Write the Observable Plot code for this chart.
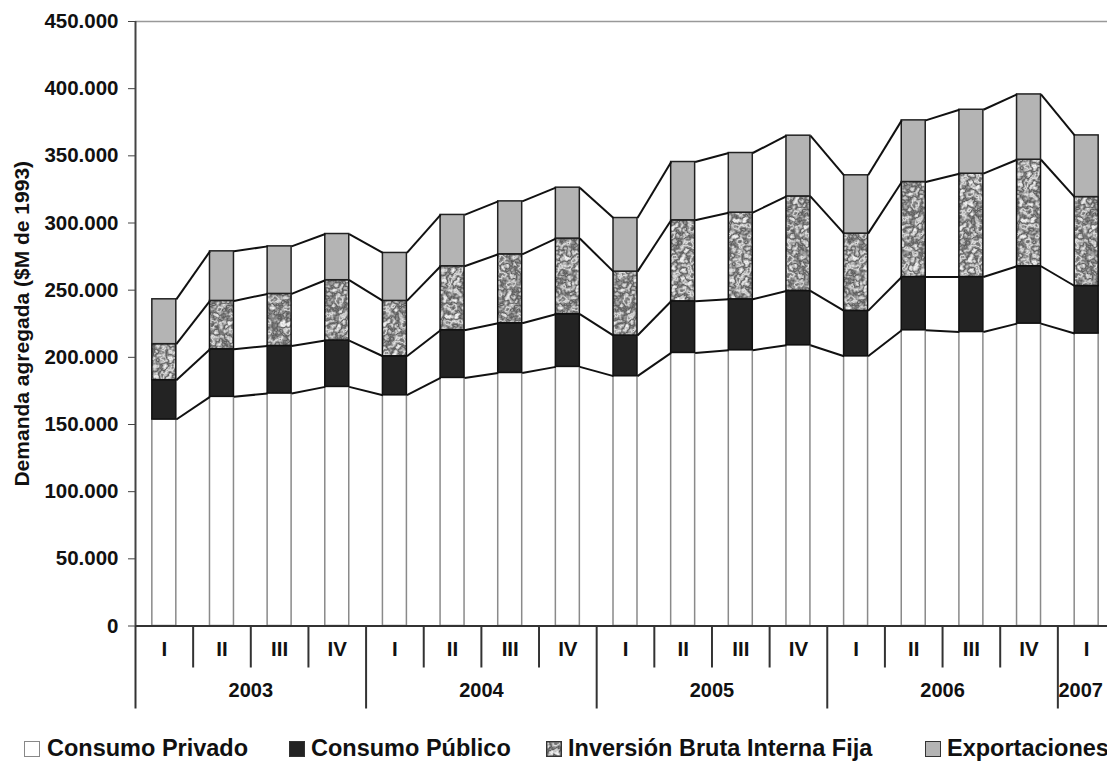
<!DOCTYPE html>
<html><head><meta charset="utf-8">
<script src="https://cdn.jsdelivr.net/npm/d3@7"></script>
<script src="https://cdn.jsdelivr.net/npm/@observablehq/plot@0.6"></script>
<style>
body{margin:0;background:#fff;font-family:"Liberation Sans",Arial,sans-serif;}
#legend{position:relative;width:1107px;height:31px;font-weight:bold;font-size:23.5px;color:#111;}
.item{position:absolute;top:5px;height:26px;line-height:26px;white-space:nowrap;}
.sw{position:absolute;top:11px;width:16px;height:16px;box-sizing:border-box;}
svg{display:block;}
</style></head><body>
<div id="chart"></div>
<div id="legend"></div>
<script>
// ---- data ($M de 1993) ----
const quarters = ["I","II","III","IV","I","II","III","IV","I","II","III","IV","I","II","III","IV","I"];
const years = ["2003","2004","2005","2006","2007"];
const yearFirstQuarter = [0,4,8,12,16];
const yearQuarterCount = [4,4,4,4,1];
const seriesNames = ["Consumo Privado","Consumo Público","Inversión Bruta Interna Fija","Exportaciones"];
const consumoPrivado = [153700,170600,173100,178000,171800,184700,188400,192900,186000,203300,205300,209000,200800,220200,218900,225100,217700];
const consumoPublico = [29300,35400,35400,34500,29000,35500,37000,39200,30200,38400,37900,40400,33800,39600,40900,42700,35400];
const inversion = [26800,36000,38700,44900,41200,47600,51300,56300,47600,60300,64500,70400,57500,70700,76900,79300,66200];
const exportaciones = [33400,36900,35400,34400,35700,38200,39400,37900,39900,43400,44400,45200,43400,45900,47600,48600,45900];
const yTicks = d3.range(0, 450001, 50000);

// ---- derived ----
const series = [consumoPrivado, consumoPublico, inversion, exportaciones];
const n = quarters.length;
const cum = [];
series.forEach((s, k) => cum.push(s.map((v, i) => (k ? cum[k-1][i] : 0) + v)));
const rows = series.map((s, k) => s.map((v, i) => ({i, k, y1: k ? cum[k-1][i] : 0, y2: cum[k][i]})));
const HW = 0.208; // half bar width (band units)
const links = [];
cum.forEach(c => { for (let i = 0; i < n - 1; i++) links.push({x1: i + 0.5 + HW, y1: c[i], x2: i + 1.5 - HW, y2: c[i+1]}); });
const qIdx = d3.range(n);
const sepQ = qIdx.filter(i => !yearFirstQuarter.includes(i));
const yearRows = years.map((y, j) => ({y, c: yearFirstQuarter[j] + yearQuarterCount[j] / 2, full: yearQuarterCount[j] === 4}));

const styles = [
  {fill: "#ffffff", stroke: "#8a8a8a"},
  {fill: "#232323", stroke: "#111111"},
  {fill: "url(#invPat)", stroke: "#111111"},
  {fill: "#b4b4b4", stroke: "#222222"}
];
const fmt = d => d === 0 ? "0" : d3.format(",")(d).replace(/,/g, ".");
const H = 730, Y0 = 625.5;

const barMarks = rows.map((r, k) => Plot.rect(r, {
  x1: d => d.i + 0.5 - HW, x2: d => d.i + 0.5 + HW, y1: "y1", y2: "y2",
  fill: styles[k].fill, stroke: styles[k].stroke, strokeWidth: 1.5
}));

const svg = Plot.plot({
  width: 1107, height: H,
  marginLeft: 135, marginTop: 21, marginBottom: H - Y0, marginRight: 0,
  style: {fontFamily: "'Liberation Sans', Arial, sans-serif", fontWeight: "bold", color: "#111", background: "#fff"},
  x: {type: "linear", domain: [0, n], range: [135, 1115], axis: null},
  y: {domain: [0, 450000], axis: null},
  marks: [
    Plot.ruleY([450000], {x1: 0, x2: n, stroke: "#999", strokeWidth: 1.5}),
    ...barMarks,
    Plot.link(links, {x1: "x1", y1: "y1", x2: "x2", y2: "y2", stroke: "#111", strokeWidth: 2}),
    Plot.ruleY([0], {x1: 0, x2: n, stroke: "#333", strokeWidth: 2}),
    Plot.ruleX([0], {y1: 0, y2: 450000, stroke: "#444", strokeWidth: 2}),
    Plot.ruleX(sepQ, {x: d => d, y1: 0, y2: 0, insetBottom: -42, stroke: "#333", strokeWidth: 2}),
    Plot.ruleX(yearFirstQuarter, {x: d => d, y1: 0, y2: 0, insetBottom: -83, stroke: "#333", strokeWidth: 2}),
    Plot.axisY({ticks: yTicks, tickSize: 7, tickPadding: 10, tickFormat: fmt, label: null, fontSize: 20.5, fontWeight: "bold", stroke: "#444"}),
    Plot.text(["Demanda agregada ($M de 1993)"], {x: 0, y: 225000, dx: -113, rotate: -90, fontSize: 21, fontWeight: "bold", fill: "#111"}),
    Plot.text(qIdx, {x: d => d + 0.5, y: 0, dy: 23, text: d => quarters[d], fontSize: 20.5, fontWeight: "bold", fill: "#111"}),
    Plot.text(yearRows.filter(d => d.full), {x: "c", y: 0, dy: 65, text: "y", fontSize: 20, fontWeight: "bold", fill: "#111"}),
    Plot.text(yearRows.filter(d => !d.full), {x: "c", y: 0, dy: 65, dx: -6, text: "y", fontSize: 20, fontWeight: "bold", fill: "#111"})
  ]
});

const ns = "http://www.w3.org/2000/svg";
const defs = document.createElementNS(ns, "defs");
defs.innerHTML = `
<filter id="noiseF" x="0" y="0" width="1" height="1" color-interpolation-filters="sRGB">
  <feTurbulence type="fractalNoise" baseFrequency="0.13" numOctaves="3" seed="11" stitchTiles="stitch" result="n"/>
  <feColorMatrix in="n" type="matrix" values="1 0 0 0 0  1 0 0 0 0  1 0 0 0 0  0 0 0 0 1" result="g"/>
  <feComponentTransfer in="g">
    <feFuncR type="table" tableValues="0.32 0.38 0.5 0.88 0.6 0.36 0.74 0.96 0.8 0.55"/>
    <feFuncG type="table" tableValues="0.32 0.38 0.5 0.88 0.6 0.36 0.74 0.96 0.8 0.55"/>
    <feFuncB type="table" tableValues="0.32 0.38 0.5 0.88 0.6 0.36 0.74 0.96 0.8 0.55"/>
  </feComponentTransfer>
</filter>
<pattern id="invPat" patternUnits="userSpaceOnUse" width="96" height="96">
  <rect width="96" height="96" fill="#fff" filter="url(#noiseF)"/>
</pattern>`;
svg.insertBefore(defs, svg.firstChild);
document.getElementById("chart").appendChild(svg);

// ---- legend ----
const legend = document.getElementById("legend");
const swLeft = [24, 289, 546, 925], txLeft = [47, 311, 568, 947];
seriesNames.forEach((name, k) => {
  const sw = document.createElement("div");
  sw.className = "sw";
  sw.style.left = swLeft[k] + "px";
  if (k === 2) {
    sw.innerHTML = `<svg width="16" height="16"><rect x="0.7" y="0.7" width="14.6" height="14.6" fill="url(#invPat)" stroke="#333" stroke-width="1.4"/></svg>`;
  } else {
    sw.style.background = styles[k].fill;
    sw.style.border = "1.4px solid " + (k === 0 ? "#888" : "#333");
  }
  legend.appendChild(sw);
  const t = document.createElement("div");
  t.className = "item";
  t.style.left = txLeft[k] + "px";
  t.textContent = name;
  legend.appendChild(t);
});
</script>
</body></html>
